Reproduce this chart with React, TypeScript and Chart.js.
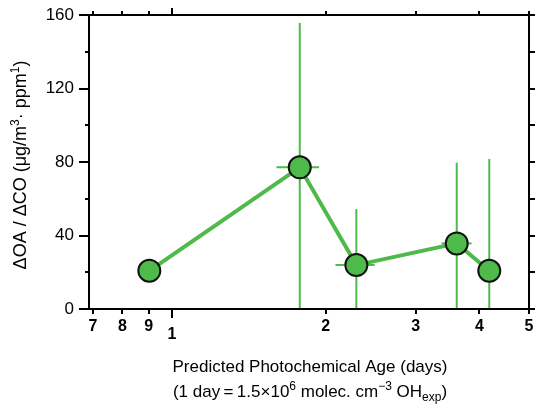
import React, { useEffect, useRef } from 'react';
import { Chart, registerables } from 'chart.js';

Chart.register(...registerables);

// ---- data ----
const ageDays = [0.903, 1.779, 2.296, 3.61, 4.18];
const oaRatio = [20.8, 77.1, 23.9, 35.7, 20.8];
const yErrHigh: (number | null)[] = [null, 155.6, 54.4, 79.6, 81.6];
const yErrLow: (number | null)[] = [null, 0, 0, 0, 0];
const xErrLow: (number | null)[] = [null, 1.602, 2.09, 3.37, null];
const xErrHigh: (number | null)[] = [null, 1.941, 2.494, 3.86, null];
const xTickValues = [0.7, 0.8, 0.9, 1, 2, 3, 4, 5];
const xTickLabels = ['7', '8', '9', '1', '2', '3', '4', '5'];
const yTickValues = [0, 40, 80, 120, 160];
const yMinorValues = [20, 60, 100, 140];
const yTitleParts = [
  { t: '\u0394OA / \u0394CO (\u03bcg/m', s: 0 },
  { t: '3', s: 1 },
  { t: '\u00b7 ppm', s: 0 },
  { t: '1', s: 1 },
  { t: ')', s: 0 },
];
const xTitle1 = 'Predicted Photochemical Age (days)';
const xTitle2Parts = [
  { t: '(1 day\u2009=\u20091.5\u00d710', s: 0 },
  { t: '6', s: 1 },
  { t: ' molec. cm', s: 0 },
  { t: '\u22123', s: 1 },
  { t: ' OH', s: 0 },
  { t: 'exp', s: -1 },
  { t: ')', s: 0 },
];

const GREEN = 'rgb(78,186,74)';
const FONT = '"Liberation Sans", Arial, sans-serif';

function drawRich(ctx: CanvasRenderingContext2D, parts: { t: string; s: number }[], cx: number, cy: number, size: number) {
  const small = Math.round(size * 0.68);
  let total = 0;
  const widths = parts.map((p) => {
    ctx.font = `${p.s === 0 ? size : small}px ${FONT}`;
    const w = ctx.measureText(p.t).width;
    total += w;
    return w;
  });
  let x = cx - total / 2;
  ctx.textAlign = 'left';
  ctx.textBaseline = 'alphabetic';
  const base = cy + size * 0.36;
  parts.forEach((p, i) => {
    ctx.font = `${p.s === 0 ? size : small}px ${FONT}`;
    const dy = p.s === 1 ? -size * 0.42 : p.s === -1 ? size * 0.25 : 0;
    ctx.fillText(p.t, x, base + dy);
    x += widths[i];
  });
}

const decorPlugin = {
  id: 'decor',
  beforeDatasetsDraw(chart: any) {
    const { ctx, chartArea: a, scales } = chart;
    const xs = scales.x;
    const ys = scales.y;
    ctx.save();
    ctx.beginPath();
    ctx.rect(a.left, a.top, a.right - a.left, a.bottom - a.top);
    ctx.clip();
    ctx.strokeStyle = GREEN;
    ctx.lineWidth = 2;
    for (let i = 0; i < ageDays.length; i++) {
      const px = xs.getPixelForValue(ageDays[i]);
      const py = ys.getPixelForValue(oaRatio[i]);
      if (yErrHigh[i] !== null && yErrLow[i] !== null) {
        ctx.beginPath();
        ctx.moveTo(px, ys.getPixelForValue(yErrLow[i] as number) + 2);
        ctx.lineTo(px, ys.getPixelForValue(yErrHigh[i] as number));
        ctx.stroke();
      }
      if (xErrLow[i] !== null && xErrHigh[i] !== null) {
        ctx.beginPath();
        ctx.moveTo(xs.getPixelForValue(xErrLow[i] as number), py);
        ctx.lineTo(xs.getPixelForValue(xErrHigh[i] as number), py);
        ctx.stroke();
      }
    }
    ctx.restore();
  },
  afterDraw(chart: any) {
    const { ctx, chartArea: a, scales } = chart;
    const xs = scales.x;
    const ys = scales.y;
    ctx.save();
    ctx.strokeStyle = '#000';
    ctx.lineWidth = 2;
    ctx.strokeRect(a.left, a.top, a.right - a.left, a.bottom - a.top);
    ctx.beginPath();
    xTickValues.forEach((v) => {
      const px = Math.round(xs.getPixelForValue(v));
      const big = v === 1;
      ctx.moveTo(px, a.bottom);
      ctx.lineTo(px, a.bottom + (big ? 9 : 5));
      ctx.moveTo(px, a.top);
      ctx.lineTo(px, a.top - (big ? 7 : 4));
    });
    yTickValues.forEach((v) => {
      const py = Math.round(ys.getPixelForValue(v));
      ctx.moveTo(a.left, py);
      ctx.lineTo(a.left - 10, py);
      ctx.moveTo(a.right, py);
      ctx.lineTo(a.right + 6, py);
    });
    yMinorValues.forEach((v) => {
      const py = Math.round(ys.getPixelForValue(v));
      ctx.moveTo(a.left, py);
      ctx.lineTo(a.left - 4, py);
      ctx.moveTo(a.right, py);
      ctx.lineTo(a.right + 6, py);
    });
    ctx.stroke();

    ctx.fillStyle = '#000';
    // x title
    ctx.font = `17px ${FONT}`;
    ctx.textAlign = 'center';
    ctx.textBaseline = 'middle';
    const cx = (a.left + a.right) / 2 + 1;
    ctx.fillText(xTitle1, cx, 367);
    drawRich(ctx, xTitle2Parts, cx, 391, 17);
    // y title
    ctx.translate(20, (a.top + a.bottom) / 2 + 3);
    ctx.rotate(-Math.PI / 2);
    drawRich(ctx, yTitleParts, 0, 0, 18);
    ctx.restore();
  },
};

export default function App() {
  const ref = useRef<HTMLCanvasElement | null>(null);
  useEffect(() => {
    if (!ref.current) return;
    const chart = new Chart(ref.current, {
      type: 'line',
      data: {
        datasets: [
          {
            data: ageDays.map((x, i) => ({ x, y: oaRatio[i] })),
            borderColor: GREEN,
            borderWidth: 4,
            backgroundColor: GREEN,
            pointBackgroundColor: GREEN,
            pointBorderColor: '#111',
            pointBorderWidth: 2,
            pointRadius: 11,
            tension: 0,
          },
        ],
      },
      options: {
        responsive: false,
        animation: false,
        layout: { padding: { left: 0, right: 9, top: 15, bottom: 0 } },
        plugins: { legend: { display: false }, tooltip: { enabled: false } },
        scales: {
          x: {
            type: 'logarithmic',
            min: 0.688,
            max: 5,
            afterBuildTicks: (s: any) => {
              s.ticks = xTickValues.map((v) => ({ value: v }));
            },
            afterFit: (s: any) => {
              s.height = 97;
              s.paddingLeft = 0;
              s.paddingRight = 0;
              s.paddingTop = 0;
              s.paddingBottom = 0;
            },
            grid: { display: false, drawTicks: false },
            border: { display: false },
            ticks: {
              autoSkip: false,
              maxRotation: 0,
              padding: 9,
              color: '#000',
              callback: (v: any) => {
                const i = xTickValues.indexOf(Number(v));
                return i >= 0 ? xTickLabels[i] : '';
              },
              font: (c: any) => ({
                family: FONT,
                size: 16,
                weight: 'bold',
                lineHeight: c.tick && c.tick.value === 1 ? 2.1 : 1.1,
              }),
            },
          },
          y: {
            type: 'linear',
            min: 0,
            max: 160,
            afterBuildTicks: (s: any) => {
              s.ticks = yTickValues.map((v) => ({ value: v }));
            },
            afterFit: (s: any) => {
              s.width = 89;
              s.paddingLeft = 0;
              s.paddingRight = 0;
              s.paddingTop = 0;
              s.paddingBottom = 0;
            },
            grid: { display: false, drawTicks: false },
            border: { display: false },
            ticks: {
              padding: 15,
              color: '#000',
              font: { family: FONT, size: 17 },
            },
          },
        },
      },
      plugins: [decorPlugin],
    });
    return () => chart.destroy();
  }, []);
  return (
    <div style={{ position: 'fixed', left: 0, top: 0, width: 538, height: 406, background: '#fff', overflow: 'hidden' }}>
      <canvas ref={ref} width={542} height={406} style={{ width: 542, height: 406, display: 'block' }} />
    </div>
  );
}
